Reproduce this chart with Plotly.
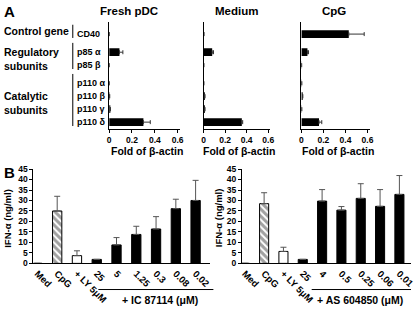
import plotly.graph_objects as go

# ---------------- data ----------------
# Panel A
groups = ["Control gene", "Regulatory<br>subunits", "Catalytic<br>subunits"]
genes = ["CD40", "p85 α", "p85 β", "p110 α", "p110 β", "p110 γ", "p110 δ"]
gene_group = [0, 1, 1, 2, 2, 2, 2]
panelA_titles = ["Fresh pDC", "Medium", "CpG"]
fresh_vals = [0.0, 0.09, 0.0, 0.0, 0.004, 0.01, 0.30]
fresh_err = [0.0, 0.03, 0.0, 0.0, 0.0, 0.0, 0.06]
medium_vals = [0.003, 0.08, 0.002, 0.002, 0.012, 0.012, 0.355]
medium_err = [0.0, 0.012, 0.0, 0.0, 0.0, 0.0, 0.008]
cpg_vals = [0.43, 0.055, 0.002, 0.003, 0.012, 0.003, 0.16]
cpg_err = [0.14, 0.01, 0.0, 0.0, 0.0, 0.0, 0.025]
foldticks = [0, 0.2, 0.4, 0.6]

# Panel B
left_cats = ["Med", "CpG", "+ LY 5μM", "25", "5", "1.25", "0.3", "0.08", "0.02"]
left_vals = [0, 25, 3.7, 1.9, 8.8, 13.8, 16.4, 26.1, 30.0]
left_err = [0, 7.0, 2.3, 0, 3.5, 3.9, 5.9, 4.5, 9.6]
right_cats = ["Med", "CpG", "+ LY 5μM", "25", "4", "0.5", "0.25", "0.06", "0.01"]
right_vals = [0, 28.5, 5.7, 1.9, 29.7, 25.4, 31.0, 27.2, 32.9]
right_err = [0, 5.2, 2.0, 0, 5.5, 1.7, 7.0, 8.0, 9.0]
bar_kind = ["black", "hatch", "open", "black", "black", "black", "black", "black", "black"]
ifn_ticks = list(range(0, 50, 5))
left_group_label = "+ IC 87114 (μM)"
right_group_label = "+ AS 604850 (μM)"

# ---------------- layout helpers ----------------
W, H = 416, 310
FONT = "Arial, Liberation Sans, sans-serif"


def px(x):
    return x / W


def py(y):
    return 1 - y / H


def bfont(size):
    return dict(family=FONT, size=size, color="black", weight="bold")


# row positions with a small extra gap between gene groups
row_pos = []
pos = 0.0
for i, g in enumerate(gene_group):
    if i > 0:
        pos += 1.0 + (0.4 if g != gene_group[i - 1] else 0.0)
    row_pos.append(pos)

fig = go.Figure()

panelA = [
    (fresh_vals, fresh_err, (109, 181), 129),
    (medium_vals, medium_err, (205, 273), 239),
    (cpg_vals, cpg_err, (304.5, 374), 338),
]
yA_dom = [py(128), py(18)]
yA_range = [7.32, -0.9]

for k, (vals, errs, (x0, x1), tcx) in enumerate(panelA):
    sfx = "" if k == 0 else str(k + 1)
    fig.add_trace(go.Bar(
        x=vals, y=row_pos, orientation="h", width=0.6,
        marker=dict(color="black", line=dict(width=0)),
        error_x=dict(type="data", symmetric=False, array=errs,
                     arrayminus=[0] * len(errs), color="#333",
                     thickness=1, width=2),
        xaxis="x" + sfx, yaxis="y" + sfx, showlegend=False,
    ))
    fig.layout["xaxis" + sfx] = dict(
        domain=[px(x0), px(x1)], range=[0, 0.62], anchor="y" + sfx,
        showline=True, linecolor="black", linewidth=1, ticks="outside",
        ticklen=3, tickcolor="black", tickvals=foldticks,
        ticktext=[("%g" % v) for v in foldticks],
        tickfont=bfont(8.5),
        showgrid=False, zeroline=False, fixedrange=True,
    )
    fig.layout["yaxis" + sfx] = dict(
        domain=yA_dom, range=yA_range, anchor="x" + sfx,
        showline=True, linecolor="black", linewidth=1, ticks="",
        showticklabels=False, showgrid=False, zeroline=False,
    )
    fig.add_annotation(text=panelA_titles[k], x=px(tcx), y=py(6),
                       xref="paper", yref="paper", xanchor="center", yanchor="middle",
                       showarrow=False, font=bfont(11.5))
    fig.add_annotation(text="Fold of β-actin", x=px((x0 + x1) / 2 + 2), y=py(151),
                       xref="paper", yref="paper", xanchor="center", yanchor="middle",
                       showarrow=False, font=bfont(10.5))

# gene labels and group brackets
for g, p in zip(genes, row_pos):
    fig.add_annotation(text=g, x=px(74), y=p, xref="paper", yref="y",
                       xanchor="left", yanchor="middle", showarrow=False,
                       font=bfont(9))
for gi, gname in enumerate(groups):
    rows = [row_pos[i] for i, g in enumerate(gene_group) if g == gi]
    lo, hi = min(rows), max(rows)
    fig.add_shape(type="line", xref="paper", yref="y",
                  x0=px(72), x1=px(72), y0=lo - 0.72, y1=hi + 0.3,
                  line=dict(color="black", width=1))
    fig.add_annotation(text=gname, x=0, y=(lo + hi) / 2 - (0.22 if gi == 0 else 0),
                       xref="paper", yref="y", xanchor="left", yanchor="middle",
                       align="left", showarrow=False, font=bfont(10.5))

# ---------------- panel B ----------------
colors = {"black": "black", "hatch": "white", "open": "white"}
shapes = {"black": "", "hatch": "\\", "open": ""}
yB_dom = [py(267), py(169.5)]
panelB = [
    (left_cats, left_vals, left_err, (32, 212), [-0.2, 8.75], 6, left_group_label, (98, 215), 161),
    (right_cats, right_vals, right_err, (244, 416), [-0.15, 8.6], 221, right_group_label, (315, 416), 364),
]
for k, (cats, vals, errs, (x0, x1), xr, ytx, glabel, (g0, g1), gcx) in enumerate(panelB):
    sfx = str(k + 4)
    fig.add_trace(go.Bar(
        x=cats, y=vals, width=0.47,
        marker=dict(color=[colors[b] for b in bar_kind],
                    line=dict(color="black", width=1),
                    pattern=dict(shape=[shapes[b] for b in bar_kind],
                                 fgcolor="black", size=5, solidity=0.6)),
        error_y=dict(type="data", symmetric=False, array=errs,
                     arrayminus=[0] * len(errs), color="#555",
                     thickness=1, width=3),
        xaxis="x" + sfx, yaxis="y" + sfx, showlegend=False,
    ))
    fig.layout["xaxis" + sfx] = dict(
        domain=[px(x0), px(x1)], range=xr, anchor="y" + sfx, type="category",
        showline=True, linecolor="black", linewidth=1, ticks="",
        tickangle=45, tickfont=bfont(9.5),
        showgrid=False, zeroline=False,
    )
    fig.layout["yaxis" + sfx] = dict(
        domain=yB_dom, range=[0, 45], anchor="x" + sfx,
        showline=True, linecolor="black", linewidth=1, ticks="outside",
        ticklen=3, tickcolor="black", tickvals=ifn_ticks,
        tickfont=bfont(8.5),
        showgrid=False, zeroline=False,
    )
    fig.add_annotation(text="IFN-α (ng/ml)", x=px(ytx), y=py(220), textangle=-90,
                       xref="paper", yref="paper", xanchor="center", yanchor="middle",
                       showarrow=False, font=bfont(9.5))
    fig.add_shape(type="line", xref="paper", yref="paper",
                  x0=px(g0), x1=px(g1), y0=py(294), y1=py(294),
                  line=dict(color="black", width=1))
    fig.add_annotation(text=glabel, x=px(gcx), y=py(304.5),
                       xref="paper", yref="paper", xanchor="center", yanchor="middle",
                       showarrow=False, font=bfont(10.5))

# panel letters
fig.add_annotation(text="A", x=0, y=py(7), xref="paper", yref="paper",
                   xanchor="left", yanchor="middle", showarrow=False, font=bfont(15))
fig.add_annotation(text="B", x=0, y=py(173), xref="paper", yref="paper",
                   xanchor="left", yanchor="middle", showarrow=False, font=bfont(15))

fig.update_layout(
    width=W, height=H, margin=dict(l=0, r=0, t=0, b=0),
    paper_bgcolor="white", plot_bgcolor="white", showlegend=False,
    barmode="overlay", bargap=0.53,
)

fig.write_html("out.html", config={"displayModeBar": False, "staticPlot": True},
               post_script="document.body.style.margin='0';document.body.style.padding='0';")
